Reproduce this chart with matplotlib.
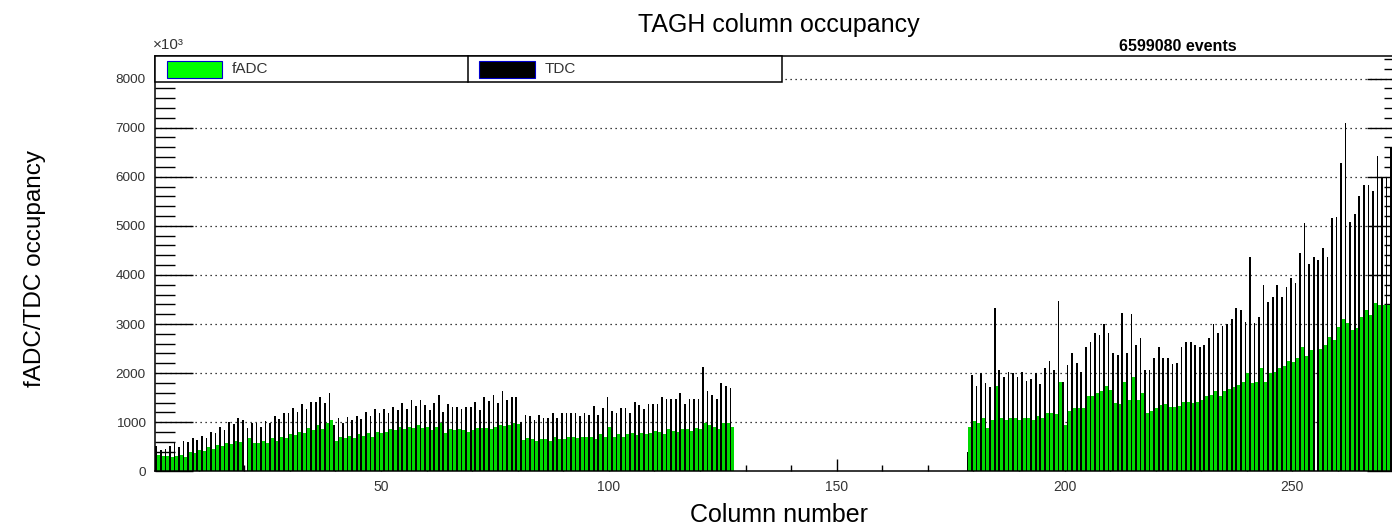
import numpy as np
import matplotlib
matplotlib.use('Agg')
import matplotlib.pyplot as plt
from matplotlib.patches import Rectangle

plt.rcParams['font.family'] = ['Liberation Sans', 'DejaVu Sans']

## Data (values in units of 10^3 hits)
# first block of columns, 1..127
cols_a = np.arange(1, 128)
tdc_a = [516, 435, 448, 516, 570, 489, 625, 605, 672, 639,
         720, 672, 808, 774, 897, 842, 998, 958, 1080, 1046,
         876, 978, 992, 897, 1033, 978, 1135, 1060, 1182, 1182,
         1284, 1216, 1365, 1264, 1420, 1420, 1522, 1400, 1603, 944,
         1080, 978, 1114, 1046, 1128, 1060, 1216, 1128, 1264, 1182,
         1264, 1196, 1318, 1250, 1386, 1264, 1454, 1332, 1454, 1352,
         1250, 1400, 1556, 1216, 1365, 1318, 1318, 1264, 1318, 1318,
         1406, 1250, 1508, 1440, 1556, 1400, 1644, 1454, 1522, 1508,
         1012, 1148, 1128, 1046, 1148, 1094, 1094, 1182, 1094, 1196,
         1182, 1182, 1182, 1128, 1196, 1148, 1332, 1148, 1284, 1508,
         1236, 1196, 1284, 1284, 1182, 1420, 1352, 1264, 1372, 1372,
         1372, 1508, 1467, 1467, 1467, 1603, 1365, 1467, 1467, 1467,
         2133, 1644, 1556, 1467, 1793, 1739, 1705]
fadc_a = [330, 310, 320, 300, 312, 333, 285, 400, 367, 435,
          414, 489, 462, 537, 516, 584, 557, 625, 605, 0,
          672, 584, 584, 625, 584, 672, 625, 707, 672, 761,
          734, 808, 774, 876, 842, 944, 856, 978, 1046, 625,
          707, 672, 720, 672, 761, 720, 774, 707, 808, 774,
          808, 856, 842, 910, 856, 897, 890, 944, 876, 910,
          842, 910, 992, 774, 856, 842, 856, 842, 808, 842,
          876, 876, 890, 856, 910, 944, 924, 944, 978, 958,
          640, 672, 659, 618, 659, 659, 618, 693, 659, 659,
          707, 707, 673, 693, 707, 707, 659, 761, 707, 910,
          707, 761, 707, 761, 774, 740, 788, 761, 774, 822,
          808, 761, 856, 822, 808, 856, 856, 822, 890, 856,
          992, 944, 910, 856, 992, 992, 910]

# second block of columns, 179..272
cols_b = np.arange(179, 273)
tdc_b = [387, 1963, 1742, 2010, 1793, 1725, 3321, 2065, 1915, 2031,
         2010, 1929, 2031, 1847, 1874, 1997, 1779, 2099, 2255, 2065,
         3471, 1827, 2166, 2404, 2214, 2031, 2527, 2628, 2825, 2778,
         2995, 2825, 2404, 2370, 3233, 2404, 3199, 2574, 2710, 2065,
         2065, 2302, 2527, 2302, 2302, 2185, 2200, 2526, 2629, 2629,
         2574, 2526, 2574, 2710, 3002, 2826, 2962, 3002, 3097, 3321,
         3287, 3050, 4361, 3016, 3138, 3797, 3457, 3559, 3797, 3559,
         3750, 3933, 3845, 4456, 5054, 4225, 4361, 4306, 4544, 4361,
         5156, 5190, 6277, 7105, 5088, 5244, 5611, 5835, 5835, 5720,
         6413, 5971, 5971, 6616]
fadc_b = [910, 1032, 991, 1079, 876, 1045, 1737, 1079, 1045, 1079,
          1079, 1045, 1079, 1079, 1045, 1127, 1079, 1181, 1195, 1168,
          1827, 944, 1236, 1284, 1284, 1284, 1535, 1535, 1589, 1643,
          1738, 1657, 1399, 1372, 1827, 1453, 1915, 1453, 1603, 1181,
          1236, 1284, 1352, 1372, 1317, 1318, 1331, 1420, 1420, 1399,
          1420, 1453, 1535, 1555, 1637, 1535, 1644, 1671, 1712, 1759,
          1827, 1997, 1793, 1827, 2099, 1827, 2011, 2031, 2099, 2146,
          2255, 2234, 2302, 2540, 2350, 2472, 0, 2486, 2574, 2744,
          2676, 2948, 3098, 3016, 2880, 2914, 3138, 3287, 3185, 3423,
          3390, 3390, 3390, 3390]

columns = np.concatenate([cols_a, cols_b])
tdc = np.concatenate([tdc_a, tdc_b])
fadc = np.concatenate([fadc_a, fadc_b])

x_major = [50, 100, 150, 200, 250]
y_major = np.arange(0, 8001, 1000)
n_events = 6599080

green = '#00d800'

fig = plt.figure(figsize=(13.92, 5.26), dpi=100)
# frame runs slightly past the right edge of the canvas, as in the original
ax = fig.add_axes([155.4/1392, 1-471.3/526, (1404-155.4)/1392, (471.3-56)/526])

# dotted grid below the bars
for yv in y_major[1:]:
    ax.axhline(yv, color='black', lw=0.9, ls=(0, (1, 3)), zorder=0.5)

ax.bar(columns - 0.5, tdc, width=0.37, align='edge', color='black', linewidth=0, zorder=2)
ax.bar(columns - 0.13, fadc, width=0.63, align='edge', color=green, linewidth=0, zorder=2)

ax.set_xlim(0.5, 274.5)
ax.set_ylim(0, 8460)

ax.set_xticks(x_major)
ax.set_xticks(np.arange(10, 275, 10), minor=True)
ax.set_yticks(y_major)
ax.set_yticks(np.arange(0, 8401, 200), minor=True)
ax.tick_params(axis='both', which='both', direction='in', top=False, right=True,
               labelright=False, colors='black', labelcolor='#333333')
ax.tick_params(axis='x', which='major', length=8.6, width=1.0, pad=6, labelsize=10)
ax.tick_params(axis='x', which='minor', length=4.3, width=1.0)
ax.tick_params(axis='y', which='major', length=27, width=1.0, pad=7, labelsize=9.7)
ax.tick_params(axis='y', which='minor', length=14.4, width=1.0)
for s in ax.spines.values():
    s.set_linewidth(1.1)

# legend box (ROOT style, two entries side by side)
ax.add_patch(Rectangle((0, 0.9374), 0.502, 0.0626, transform=ax.transAxes,
                       facecolor='white', edgecolor='black', lw=1.1, zorder=5, clip_on=False))
ax.plot([0.2504, 0.2504], [0.9374, 1.0], transform=ax.transAxes, color='black', lw=1.1,
        zorder=6, clip_on=False)
ax.add_patch(Rectangle((0.0093, 0.947), 0.044, 0.041, transform=ax.transAxes,
                       facecolor='#00ff00', edgecolor='#0000cc', lw=0.8, zorder=6, clip_on=False))
ax.add_patch(Rectangle((0.2592, 0.947), 0.0448, 0.041, transform=ax.transAxes,
                       facecolor='black', edgecolor='#0000cc', lw=0.8, zorder=6, clip_on=False))
ax.text(0.0613, 0.9675, 'fADC', transform=ax.transAxes, fontsize=11, va='center',
        color='#333333', zorder=7)
ax.text(0.312, 0.9675, 'TDC', transform=ax.transAxes, fontsize=11, va='center',
        color='#333333', zorder=7)

fig.text(0.5596, 0.952, 'TAGH column occupancy', ha='center', va='center', fontsize=18)
fig.text(0.5596, 0.021, 'Column number', ha='center', va='center', fontsize=18)
fig.text(0.025, 0.49, 'fADC/TDC occupancy', ha='center', va='center', rotation=90, fontsize=17.5)
fig.text(0.110, 0.902, '×10³', ha='left', va='bottom', fontsize=11, color='#333333')
fig.text(0.846, 0.911, '%d events' % n_events, ha='center', va='center', fontsize=11.5,
         fontweight='bold')

fig.savefig('out.png', dpi=100)
